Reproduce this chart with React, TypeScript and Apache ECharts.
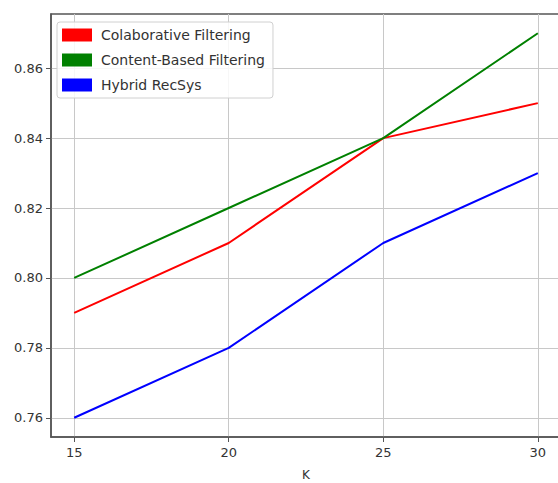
import React, { useEffect, useRef } from "react";
import * as echarts from "echarts";

const kValues = [15, 20, 25, 30];
const collaborative = [0.79, 0.81, 0.84, 0.85];
const contentBased = [0.8, 0.82, 0.84, 0.87];
const hybrid = [0.76, 0.78, 0.81, 0.83];
const xTicks = [15, 20, 25, 30];
const yTicks = [0.76, 0.78, 0.8, 0.82, 0.84, 0.86];

const FONT = "DejaVu Sans";

export default function App() {
  const ref = useRef<HTMLDivElement>(null);
  useEffect(() => {
    if (!ref.current) return;
    const chart = echarts.init(ref.current, undefined, { renderer: "svg" });
    const mk = (name: string, vals: number[], color: string) => ({
      name,
      type: "line",
      data: kValues.map((k, i) => [k, vals[i]]),
      showSymbol: false,
      symbol: "none",
      lineStyle: { color, width: 2 },
      itemStyle: { color },
      z: 3,
    });
    chart.setOption({
      animation: false,
      backgroundColor: "#ffffff",
      textStyle: { fontFamily: FONT },
      grid: {
        left: 51,
        top: 14,
        width: 510,
        height: 423,
        containLabel: false,
        outerBoundsMode: "none",
        show: true,
        borderColor: "#555",
        borderWidth: 1.5,
        backgroundColor: "transparent",
      },
      legend: {
        orient: "vertical",
        left: 57,
        top: 22,
        padding: [6, 8, 6, 5],
        itemWidth: 30,
        itemHeight: 13,
        itemGap: 11,
        borderColor: "#d0d0d0",
        borderWidth: 1,
        borderRadius: 3,
        backgroundColor: "rgba(255,255,255,0.85)",
        icon: "rect",
        textStyle: { fontFamily: FONT, fontSize: 14, color: "#333", padding: [0, 0, 0, 4] },
        data: ["Colaborative Filtering", "Content-Based Filtering", "Hybrid RecSys"],
        z: 10,
      },
      xAxis: {
        type: "value",
        min: 14.25,
        max: 30.75,
        name: "K",
        nameLocation: "middle",
        nameGap: 32,
        nameTextStyle: { fontFamily: FONT, fontSize: 12, color: "#333" },
        axisLine: { show: true, lineStyle: { color: "#555", width: 1.5 } },
        axisTick: { show: true, customValues: xTicks, length: 5, lineStyle: { color: "#555" } },
        axisLabel: { customValues: xTicks, fontFamily: FONT, fontSize: 13, color: "#333", margin: 9 },
        splitLine: { show: true, lineStyle: { color: "#c8c8c8", width: 1 } },
      },
      yAxis: {
        type: "value",
        min: 0.7545,
        max: 0.8755,
        axisLine: { show: true, lineStyle: { color: "#555", width: 1.5 } },
        axisTick: { show: true, customValues: yTicks, length: 5, lineStyle: { color: "#555" } },
        axisLabel: {
          customValues: yTicks,
          fontFamily: FONT,
          fontSize: 13,
          color: "#333",
          margin: 8,
          formatter: (v: number) => v.toFixed(2),
        },
        splitLine: { show: true, lineStyle: { color: "#c8c8c8", width: 1 } },
      },
      series: [
        mk("Colaborative Filtering", collaborative, "#ff0000"),
        mk("Content-Based Filtering", contentBased, "#008000"),
        mk("Hybrid RecSys", hybrid, "#0000ff"),
      ],
    });
    return () => chart.dispose();
  }, []);
  return <div ref={ref} style={{ width: 558, height: 483, position: "absolute", left: 0, top: 0 }} />;
}
